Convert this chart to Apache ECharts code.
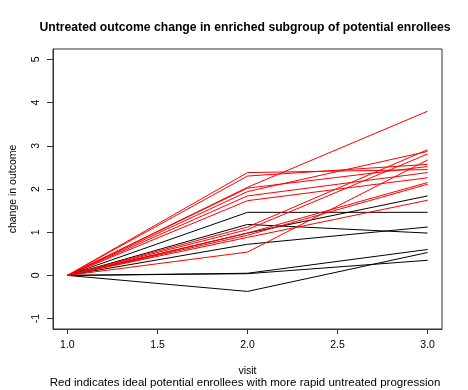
<!DOCTYPE html>
<html>
<head>
<meta charset="utf-8">
<script src="https://cdn.jsdelivr.net/npm/echarts@6/dist/echarts.min.js"></script>
<style>
html,body{margin:0;padding:0;background:#fff;}
#chart{width:468px;height:390px;}
</style>
</head>
<body>
<div id="chart"></div>
<script>
// Data
const visits = [1, 2, 3];
const baseline = 0;
const blackVisit2 = [1.46, 1.18, 0.98, 0.72, 0.05, 0.04, -0.37];
const blackVisit3 = [1.46, 0.98, 1.84, 1.12, 0.60, 0.35, 0.53];
const redVisit2 = [2.38, 2.30, 2.04, 2.02, 1.94, 1.84, 1.73, 1.12, 1.06, 0.98, 0.93, 0.88, 0.54];
const redVisit3 = [2.45, 2.57, 3.80, 2.52, 2.87, 2.38, 2.26, 2.91, 2.81, 2.15, 2.11, 1.74, 2.67];
const xTicks = [1.0, 1.5, 2.0, 2.5, 3.0];
const yTicks = [-1, 0, 1, 2, 3, 4, 5];
const titleText = 'Untreated outcome change in enriched subgroup of potential enrollees';
const subText = 'Red indicates ideal potential enrollees with more rapid untreated progression';
const xName = 'visit';
const yName = 'change in outcome';

const FONT = '"Liberation Sans", Arial, Helvetica, sans-serif';

function makeSeries(v2s, v3s, color) {
  return v2s.map((v2, i) => ({
    type: 'line',
    data: [[visits[0], baseline], [visits[1], v2], [visits[2], v3s[i]]],
    symbol: 'none',
    silent: true,
    lineStyle: { color: color, width: 1 },
    z: 2
  }));
}

const chart = echarts.init(document.getElementById('chart'), null, { renderer: 'canvas' });
chart.setOption({
  animation: false,
  backgroundColor: '#fff',
  title: [{
    text: titleText,
    left: 240, top: 17, textAlign: 'center',
    textStyle: { fontFamily: FONT, fontSize: 12.2, fontWeight: 'bold', color: '#000' }
  }, {
    text: subText,
    left: 240, top: 372, textAlign: 'center',
    textStyle: { fontFamily: FONT, fontSize: 11.5, fontWeight: 'normal', color: '#000' }
  }],
  grid: {
    left: 49, top: 49, right: 26, bottom: 61,
    show: true, borderColor: '#333', borderWidth: 1, backgroundColor: 'transparent'
  },
  xAxis: {
    type: 'value', min: 0.92, max: 3.08,
    name: xName, nameLocation: 'middle', nameGap: 37,
    nameTextStyle: { fontFamily: FONT, fontSize: 10.5, color: '#000' },
    axisLine: { show: true, onZero: false, lineStyle: { color: '#333' } },
    axisTick: { show: true, length: 5, customValues: xTicks, lineStyle: { color: '#333' } },
    axisLabel: { show: true, customValues: xTicks, margin: 11,
      formatter: v => Number(v).toFixed(1),
      fontFamily: FONT, fontSize: 10.5, color: '#000' },
    splitLine: { show: false }
  },
  yAxis: {
    type: 'value', min: -1.24, max: 5.24,
    name: yName, nameLocation: 'middle', nameGap: 34, nameRotate: 90,
    nameTextStyle: { fontFamily: FONT, fontSize: 10.5, color: '#000' },
    axisLine: { show: true, onZero: false, lineStyle: { color: '#333' } },
    axisTick: { show: true, length: 6, customValues: yTicks, lineStyle: { color: '#333' } },
    axisLabel: { show: true, customValues: yTicks, rotate: 90, margin: 11,
      formatter: v => String(Math.round(v)),
      fontFamily: FONT, fontSize: 10.5, color: '#000' },
    splitLine: { show: false }
  },
  series: makeSeries(blackVisit2, blackVisit3, '#000000').concat(makeSeries(redVisit2, redVisit3, '#ff0000'))
});
</script>
</body>
</html>
